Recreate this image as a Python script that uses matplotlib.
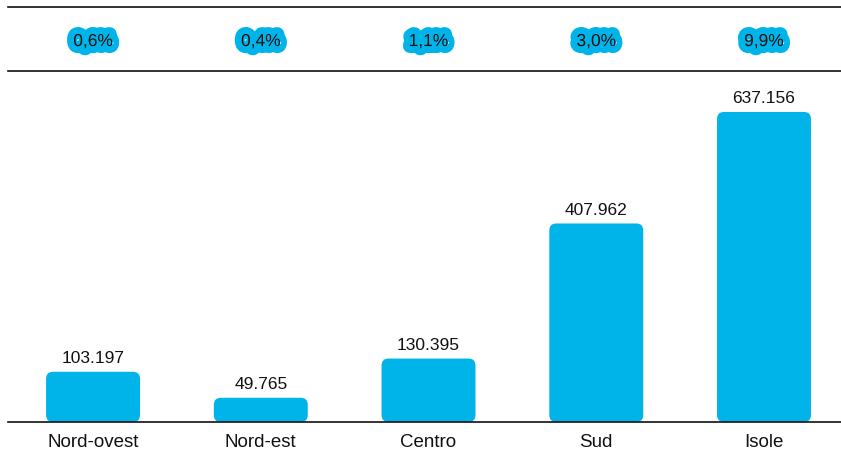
import matplotlib
matplotlib.use("Agg")
import matplotlib.pyplot as plt
import matplotlib.patheffects as pe
from matplotlib.patches import FancyBboxPatch

plt.rcParams["font.family"] = ["Liberation Sans", "DejaVu Sans"]

regions = ["Nord-ovest", "Nord-est", "Centro", "Sud", "Isole"]
values = [103197, 49765, 130395, 407962, 637156]
value_labels = ["103.197", "49.765", "130.395", "407.962", "637.156"]
shares = ["0,6%", "0,4%", "1,1%", "3,0%", "9,9%"]

BLUE = "#00b4ea"
INK = "#111111"

W, H = 841, 452
fig = plt.figure(figsize=(W / 100, H / 100), dpi=100)

# main bar panel
left_px, right_px = 8, 841
base_px, top_px = 423, 72
ax = fig.add_axes([left_px / W, (H - base_px) / H,
                   (right_px - left_px) / W, (base_px - top_px) / H])
x0, x1 = -0.507, 4.459
y1 = 721300
ax.set_xlim(x0, x1)
ax.set_ylim(0, y1)

xs = list(range(len(regions)))
bar_w = 0.56
bars = ax.bar(xs, values, width=bar_w, color="none", edgecolor="none")

# rounded versions of the bars
ax_w_px = right_px - left_px
ax_h_px = base_px - top_px
x_per_px = (x1 - x0) / ax_w_px
y_per_px = y1 / ax_h_px
aspect = y_per_px / x_per_px
radius = 7 * x_per_px
for b in bars:
    patch = FancyBboxPatch((b.get_x(), 0), b.get_width(), b.get_height(),
                           boxstyle=f"round,pad=0,rounding_size={radius}",
                           mutation_aspect=aspect, facecolor=BLUE,
                           edgecolor="none", zorder=2)
    ax.add_patch(patch)

for x, v, lab in zip(xs, values, value_labels):
    ax.annotate(lab, (x, v), xytext=(0, 5), textcoords="offset points",
                ha="center", va="bottom", fontsize=12.5, color=INK)

for s in ["top", "left", "right"]:
    ax.spines[s].set_visible(False)
ax.spines["bottom"].set_color(INK)
ax.spines["bottom"].set_linewidth(1.2)
ax.set_yticks([])
ax.set_xticks(xs)
ax.set_xticklabels(regions, fontsize=13.5, color=INK)
ax.tick_params(axis="x", length=0, pad=8)

# top band with the percentage shares
band_top, band_bot = 8, 72
axt = fig.add_axes([left_px / W, (H - band_bot) / H,
                    (right_px - left_px) / W, (band_bot - band_top) / H])
axt.set_xlim(x0, x1)
axt.set_ylim(0, 1)
axt.set_xticks([])
axt.set_yticks([])
axt.patch.set_alpha(0)
for s in ["left", "right"]:
    axt.spines[s].set_visible(False)
for s in ["top", "bottom"]:
    axt.spines[s].set_color(INK)
    axt.spines[s].set_linewidth(1.2)
for x, s in zip(xs, shares):
    axt.text(x, 0.46, s, ha="center", va="center", fontsize=12.5, color=INK,
             path_effects=[pe.withStroke(linewidth=10, foreground=BLUE,
                                         capstyle="round", joinstyle="round")])

fig.savefig("out.png", dpi=100)
